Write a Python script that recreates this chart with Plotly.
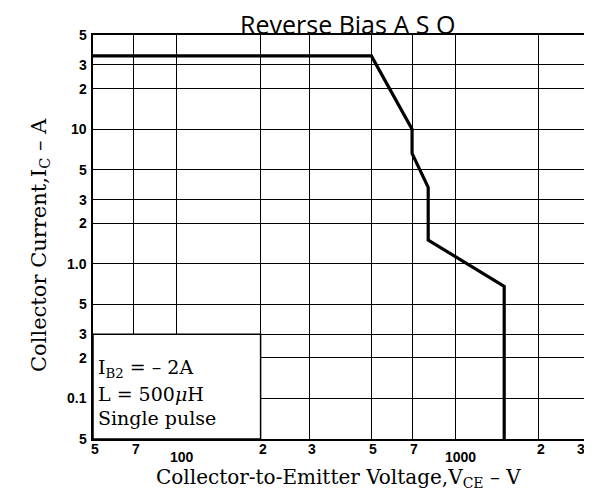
import math
import plotly.graph_objects as go

# Data
vce = [50, 500, 700, 700, 800, 800, 1500, 1500]
ic = [35, 35, 10, 6.6, 3.7, 1.5, 0.68, 0.05]

x_grid = [50, 70, 100, 200, 300, 500, 700, 1000, 2000, 3000]
x_tick_labels = ["5", "7", "100", "2", "3", "5", "7", "1000", "2", "3"]
y_grid = [0.05, 0.1, 0.2, 0.3, 0.5, 1, 2, 3, 5, 10, 20, 30, 50]
y_tick_labels = ["5", "0.1", "2", "3", "5", "1.0", "2", "3", "5", "10", "2", "3", "5"]

# condition box region (data coords)
box_x = [50, 200, 200, 50, 50]
box_y = [0.05, 0.05, 0.3, 0.3, 0.05]
box_lines = ["I<sub>B2</sub> = – 2A", "L = 500<i>μ</i>H", "Single pulse"]

# the page body has an 8px default margin, so the figure is offset by 8px
OFF = 8
W, H = 592 - OFF, 490 - OFF
ML, MR, MT, MB = 93 - OFF, 4, 35 - OFF, 51

fig = go.Figure()
fig.add_trace(go.Scatter(x=box_x, y=box_y, mode="lines", fill="toself",
                         fillcolor="white", line=dict(color="black", width=1.5),
                         hoverinfo="skip", showlegend=False))
fig.add_trace(go.Scatter(x=vce, y=ic, mode="lines",
                         line=dict(color="black", width=3.2),
                         showlegend=False))

tickfont = dict(family="Liberation Sans", size=14, color="black")
ann = []
n_x = len(x_grid)
for i, (v, t) in enumerate(zip(x_grid, x_tick_labels)):
    big = t in ("100", "1000")
    shift = 5 if big else 2
    if i == n_x - 1:
        shift = -7
    ann.append(dict(x=math.log10(v), y=0, xref="x", yref="paper", text="<b>%s</b>" % t,
                    showarrow=False, yanchor="middle", yshift=-18 if big else -10,
                    xanchor="center", xshift=shift, font=tickfont))
for v, t in zip(y_grid, y_tick_labels):
    ann.append(dict(x=0, y=math.log10(v), xref="paper", yref="y", text="<b>%s</b>" % t,
                    showarrow=False, xanchor="right", xshift=-4, font=tickfont))

ph = H - MT - MB
pw = W - ML - MR


def py(pix):
    return 1 - (pix - OFF - MT) / ph


def px(pix):
    return (pix - OFF - ML) / pw


serif = dict(family="DejaVu Serif", size=19, color="black")
for t, yy in zip(box_lines, [368, 394, 418]):
    ann.append(dict(x=px(96), y=py(yy), xref="paper", yref="paper", text=t, showarrow=False,
                    xanchor="left", yanchor="middle", font=serif))

ann.append(dict(x=px(338), y=py(478), xref="paper", yref="paper",
                text="Collector-to-Emitter Voltage,V<sub>CE</sub> – V",
                showarrow=False, xanchor="center", yanchor="middle",
                font=dict(family="DejaVu Serif", size=20, color="black")))
ann.append(dict(x=px(40), y=py(245), xref="paper", yref="paper",
                text="Collector Current,I<sub>C</sub> – A", textangle=-90,
                showarrow=False, xanchor="center", yanchor="middle",
                font=dict(family="DejaVu Serif", size=21, color="black")))
ann.append(dict(x=px(347), y=py(24), xref="paper", yref="paper",
                text="Reverse Bias A S O",
                showarrow=False, xanchor="center", yanchor="middle",
                font=dict(family="Open Sans", size=25, color="black")))

fig.update_layout(
    width=W, height=H,
    margin=dict(l=ML, r=MR, t=MT, b=MB),
    paper_bgcolor="white", plot_bgcolor="white",
    annotations=ann,
    xaxis=dict(type="log", range=[math.log10(50), math.log10(3000)],
               tickvals=x_grid, showticklabels=False, ticks="",
               showgrid=True, gridcolor="black", gridwidth=1.4,
               showline=True, linecolor="black", linewidth=1.6, mirror=True,
               zeroline=False, automargin=False),
    yaxis=dict(type="log", range=[math.log10(0.05), math.log10(50)],
               tickvals=y_grid, showticklabels=False, ticks="",
               showgrid=True, gridcolor="black", gridwidth=1.4,
               showline=True, linecolor="black", linewidth=1.6, mirror=True,
               zeroline=False, automargin=False),
)
fig.write_html("out.html")
